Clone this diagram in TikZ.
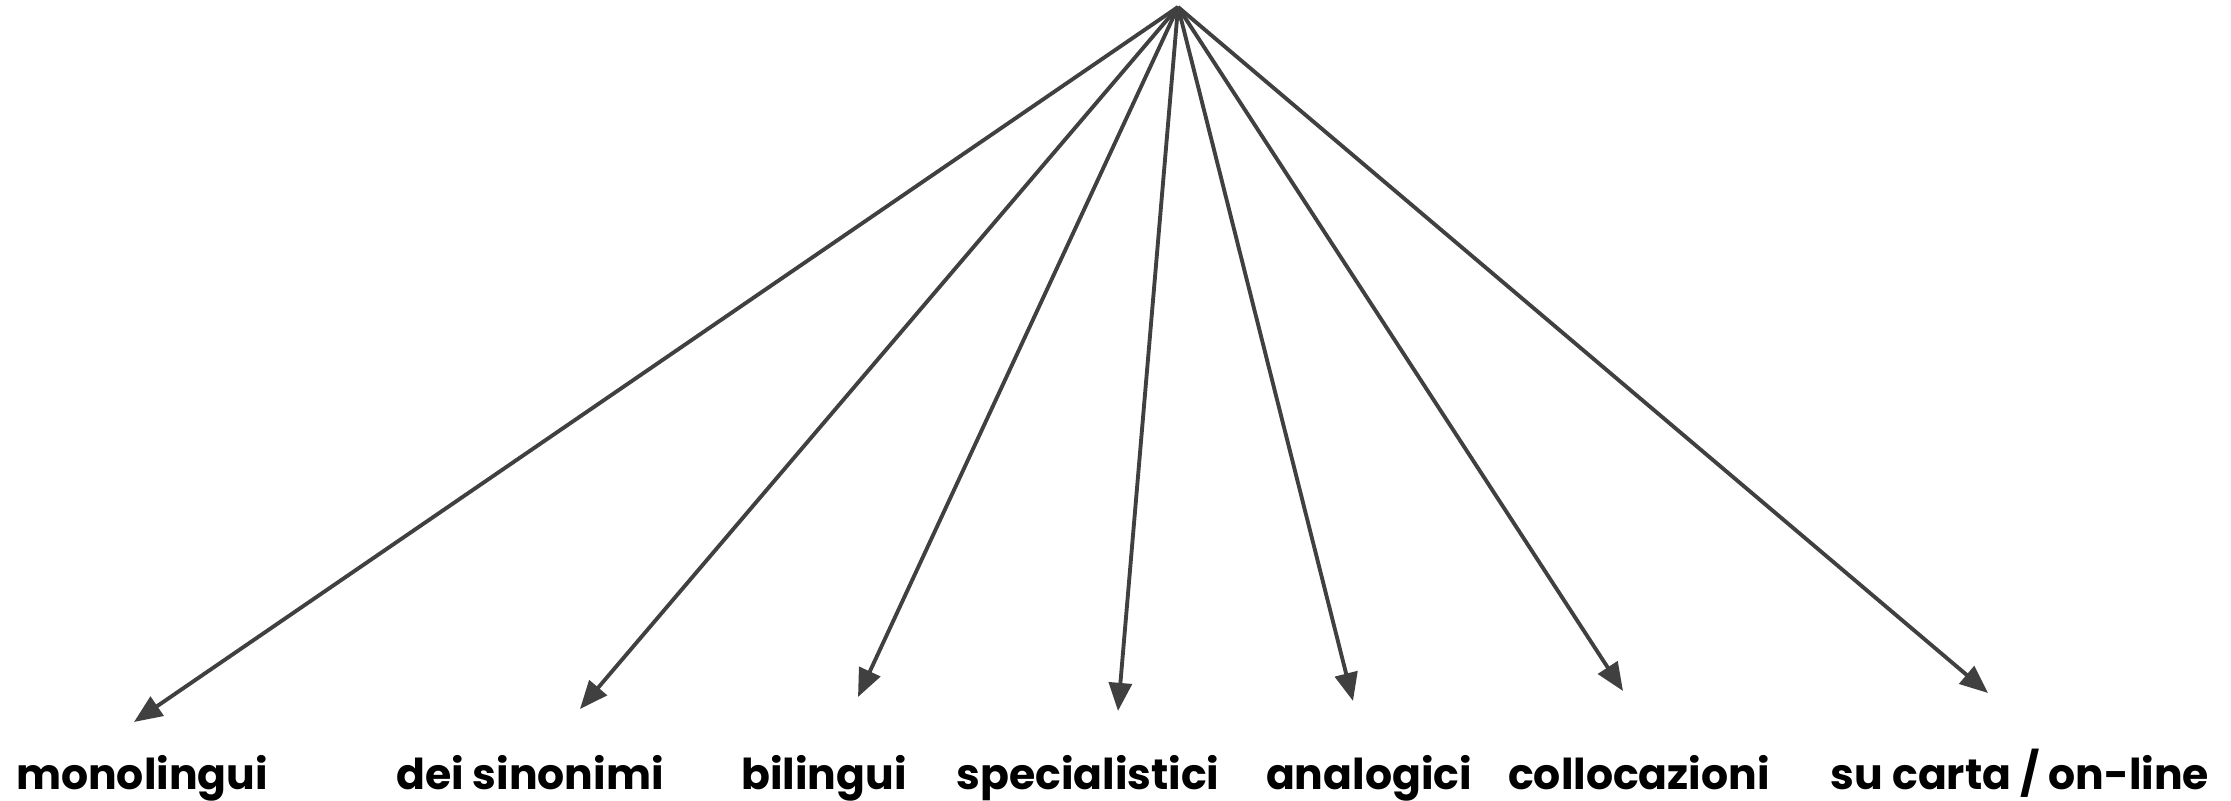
\documentclass[tikz,border=0pt]{standalone}
\usepackage{fontspec}
\setmainfont{Poppins}
\usetikzlibrary{arrows.meta}
\definecolor{arrowgray}{HTML}{404040}
\begin{document}
\begin{tikzpicture}[x=0.01cm,y=-0.01cm]
	\tikzset{branch/.style={draw=arrowgray, line width=1.1pt, -{Triangle[length=8pt,width=6.5pt]}},
		kind/.style={anchor=base, inner sep=0pt, font=\fontsize{12.1}{15}\selectfont\bfseries}}
	\useasboundingbox (0,0) rectangle (2231,801);
	
	% root of the fan
	\coordinate (top) at (1178,7);
	
	% arrow tips
	\coordinate (t1) at (134,722);
	\coordinate (t2) at (580,709);
	\coordinate (t3) at (858,697);
	\coordinate (t4) at (1118,711);
	\coordinate (t5) at (1353,701);
	\coordinate (t6) at (1623,691);
	\coordinate (t7) at (1988,693);
	
	\node [kind] (mono) at (142,790) {monolingui};
	\node [kind] (sino) at (530,790) {dei sinonimi};
	\node [kind] (bili) at (824,790) {bilingui};
	\node [kind] (spec) at (1088,790) {specialistici};
	\node [kind] (anal) at (1369,790) {analogici};
	\node [kind] (coll) at (1639,790) {collocazioni};
	\node [kind] (carta) at (2020,790) {su carta / on-line};
	
	\foreach \t in {t1,t2,t3,t4,t5,t6,t7}
		\draw[branch] (top) -- (\t);
\end{tikzpicture}
\end{document}
